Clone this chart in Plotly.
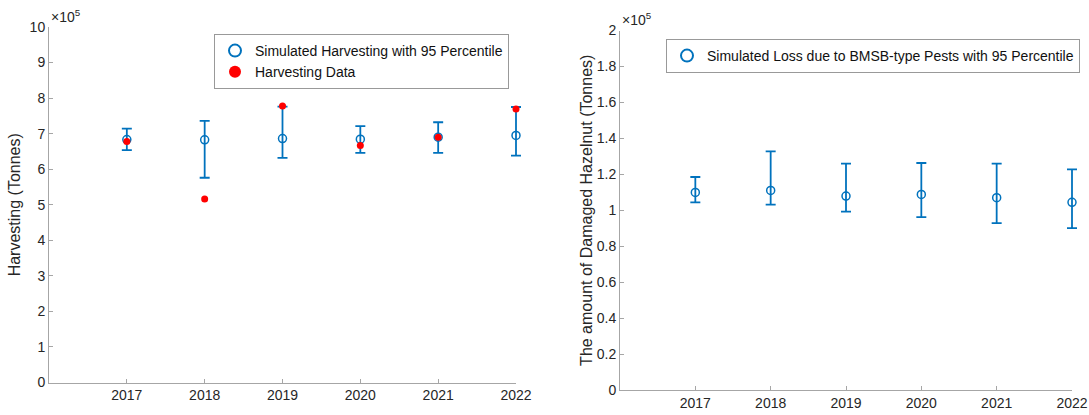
import plotly.graph_objects as go

years = [2017, 2018, 2019, 2020, 2021, 2022]

# Left panel: harvesting (tonnes)
harv_sim_mean = [683500, 682600, 686300, 684500, 690000, 695000]
harv_sim_upper = [714000, 736000, 776000, 721000, 732000, 775000]
harv_sim_lower = [653500, 576000, 632000, 646000, 646000, 638000]
harv_data = [678000, 516000, 778000, 667000, 690000, 769000]

# Right panel: damaged hazelnut (tonnes)
loss_mean = [109900, 111000, 107900, 108800, 107000, 104400]
loss_upper = [118500, 132800, 125900, 126300, 125900, 122700]
loss_lower = [104400, 103100, 99200, 96200, 92800, 90100]

left_ticks = [i * 100000 for i in range(0, 11)]
left_ticktext = [str(i) for i in range(0, 11)]
right_ticks = [i * 20000 for i in range(0, 11)]
right_ticktext = ["0", "0.2", "0.4", "0.6", "0.8", "1", "1.2", "1.4", "1.6", "1.8", "2"]

BLUE = "#0072BD"
RED = "#FF0000"
FONT = "Liberation Sans, Arial, Helvetica, sans-serif"
TXT = "#262626"
AX = "#a6a6a6"

W, H = 1089, 415

def px_x(p):
    return p / W

def px_y(p):
    return (H - p) / H

# pixel geometry of the two panels
L_X0, L_X1, L_Y0, L_Y1 = 49, 516, 382.5, 27
R_X0, R_X1, R_Y0, R_Y1 = 620, 1072, 390, 30.5
PAD = 12  # extra clip room (px) so the 2022 caps are not cut

def ext_range(x0, x1):
    per_px = 6.0 / (x1 - x0)
    return [2016, 2022 + PAD * per_px]

fig = go.Figure()

# empty traces so the visible axis subplots exist
fig.add_trace(go.Scatter(x=[], y=[], mode="markers", showlegend=False, hoverinfo="skip",
                         xaxis="x", yaxis="y"))
fig.add_trace(go.Scatter(x=[], y=[], mode="markers", showlegend=False, hoverinfo="skip",
                         xaxis="x2", yaxis="y2"))

fig.add_trace(go.Scatter(
    x=years, y=harv_sim_mean, mode="markers", cliponaxis=False,
    name="Simulated Harvesting with 95 Percentile",
    marker=dict(symbol="circle-open", size=8, color=BLUE, line=dict(width=1.5, color=BLUE)),
    error_y=dict(type="data", symmetric=False,
                 array=[u - m for u, m in zip(harv_sim_upper, harv_sim_mean)],
                 arrayminus=[m - l for m, l in zip(harv_sim_mean, harv_sim_lower)],
                 color=BLUE, thickness=1.8, width=5),
    xaxis="x3", yaxis="y", legend="legend",
))
fig.add_trace(go.Scatter(
    x=years, y=harv_data, mode="markers", name="Harvesting Data", cliponaxis=False,
    marker=dict(symbol="circle", size=7, color=RED),
    xaxis="x3", yaxis="y", legend="legend",
))
fig.add_trace(go.Scatter(
    x=years, y=loss_mean, mode="markers", cliponaxis=False,
    name="Simulated Loss due to BMSB-type Pests with 95 Percentile",
    marker=dict(symbol="circle-open", size=8, color=BLUE, line=dict(width=1.5, color=BLUE)),
    error_y=dict(type="data", symmetric=False,
                 array=[u - m for u, m in zip(loss_upper, loss_mean)],
                 arrayminus=[m - l for m, l in zip(loss_mean, loss_lower)],
                 color=BLUE, thickness=1.8, width=5),
    xaxis="x4", yaxis="y2", legend="legend2",
))

axis_common = dict(
    showgrid=False, zeroline=False, showline=True, linecolor=AX, linewidth=1,
    ticks="inside", ticklen=4, tickcolor=AX, tickwidth=1, automargin=False,
    tickfont=dict(family=FONT, size=14, color=TXT),
)

fig.update_layout(
    width=W, height=H, autosize=False,
    margin=dict(l=0, r=0, t=0, b=0, pad=0, autoexpand=False),
    paper_bgcolor="white", plot_bgcolor="rgba(0,0,0,0)",
    font=dict(family=FONT, color=TXT),
    showlegend=True,
    xaxis=dict(domain=[px_x(L_X0), px_x(L_X1)], range=[2016, 2022],
               tickvals=years, ticktext=[str(y) for y in years], anchor="y", **axis_common),
    xaxis3=dict(domain=[px_x(L_X0), px_x(L_X1 + PAD)], range=ext_range(L_X0, L_X1),
                anchor="y", visible=False, showgrid=False, zeroline=False, automargin=False),
    yaxis=dict(domain=[px_y(L_Y0), px_y(L_Y1)], range=[0, 1000000],
               tickvals=left_ticks, ticktext=left_ticktext, anchor="x",
               title=dict(text="Harvesting (Tonnes)", standoff=5,
                          font=dict(family=FONT, size=16, color=TXT)),
               **axis_common),
    xaxis2=dict(domain=[px_x(R_X0), px_x(R_X1)], range=[2016, 2022],
                tickvals=years, ticktext=[str(y) for y in years], anchor="y2", **axis_common),
    xaxis4=dict(domain=[px_x(R_X0), px_x(R_X1 + PAD)], range=ext_range(R_X0, R_X1),
                anchor="y2", visible=False, showgrid=False, zeroline=False, automargin=False),
    yaxis2=dict(domain=[px_y(R_Y0), px_y(R_Y1)], range=[0, 200000],
                tickvals=right_ticks, ticktext=right_ticktext, anchor="x2",
                title=dict(text="The amount of Damaged Hazelnut (Tonnes)", standoff=0,
                           font=dict(family=FONT, size=16, color=TXT)),
                **axis_common),
    legend=dict(x=px_x(214), y=px_y(34), xanchor="left", yanchor="top",
                bgcolor="white", bordercolor="#999999", borderwidth=1,
                font=dict(family=FONT, size=14, color="#111111"),
                tracegroupgap=0, itemsizing="constant"),
    legend2=dict(x=px_x(666), y=px_y(39), xanchor="left", yanchor="top",
                 bgcolor="white", bordercolor="#999999", borderwidth=1,
                 font=dict(family=FONT, size=14, color="#111111"),
                 tracegroupgap=0, itemsizing="constant"),
    annotations=[
        dict(text="\u00d710<sup>5</sup>", xref="paper", yref="paper",
             x=px_x(49), y=px_y(27), xanchor="left", yanchor="bottom",
             showarrow=False, font=dict(family=FONT, size=14, color=TXT)),
        dict(text="\u00d710<sup>5</sup>", xref="paper", yref="paper",
             x=px_x(620), y=px_y(30), xanchor="left", yanchor="bottom",
             showarrow=False, font=dict(family=FONT, size=14, color=TXT)),
    ],
)

fig.write_html("out.html")
